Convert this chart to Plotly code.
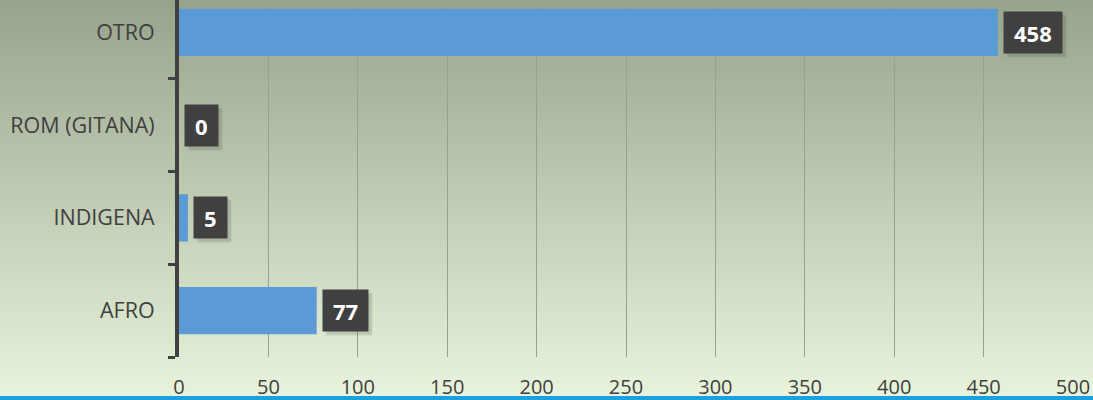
import plotly.graph_objects as go

categories = ["AFRO", "INDIGENA", "ROM (GITANA)", "OTRO"]
values = [77, 5, 0, 458]
x_ticks = [0, 50, 100, 150, 200, 250, 300, 350, 400, 450, 500]

W, H = 1093, 400
ML, MR, MT, MB = 179, 20, 0, 43
PW, PH = W - ML - MR, H - MT - MB

BAR = "#5B9BD5"
TXT = "#404040"

fig = go.Figure()
fig.add_trace(go.Bar(
    y=categories, x=values, orientation="h",
    marker=dict(color=BAR, line=dict(width=0)),
    width=0.51, hoverinfo="x+y",
))

shapes = []
# background gradient (figure-wide) built from horizontal bands
top = (152, 163, 140)
bot = (233, 244, 220)
N = 100
for i in range(N):
    t0 = i / N
    t1 = (i + 1) / N
    tm = (t0 + t1) / 2
    c = tuple(int(round(top[k] + (bot[k] - top[k]) * tm)) for k in range(3))
    py0 = t0 * H
    py1 = t1 * H + 0.6
    shapes.append(dict(
        type="rect", xref="paper", yref="paper",
        x0=-ML / PW - 0.01, x1=1 + MR / PW + 0.01,
        y0=1 - (py1 - MT) / PH, y1=1 - (py0 - MT) / PH,
        fillcolor="rgb(%d,%d,%d)" % c, line=dict(width=0), layer="below",
    ))
# bottom blue stripe
shapes.append(dict(
    type="rect", xref="paper", yref="paper",
    x0=-ML / PW - 0.01, x1=1 + MR / PW + 0.01,
    y0=-(MB + 1) / PH, y1=-(MB - 4) / PH,
    fillcolor="#1BA1E2", line=dict(width=0), layer="above",
))

annotations = []
for cat, v in zip(categories, values):
    s = str(v)
    w = 12.6 * len(s) + 8
    # soft shadow
    for dx, dy, a in [(9, -4, 0.10), (8, -3, 0.08)]:
        annotations.append(dict(
            x=v, y=cat, xref="x", yref="y", text=" ", showarrow=False,
            xanchor="left", yanchor="middle", xshift=dx, yshift=dy,
            width=w, height=29, borderpad=6, bgcolor="rgba(40,50,40,%.2f)" % a,
            font=dict(size=22),
        ))
    annotations.append(dict(
        x=v, y=cat, xref="x", yref="y", text="<b>%s</b>" % s, showarrow=False,
        xanchor="left", yanchor="middle", xshift=5,
        width=w, height=29, borderpad=6, bgcolor="#404040",
        font=dict(family="Open Sans", size=22, color="white"),
    ))

fig.update_layout(
    width=W, height=H,
    margin=dict(l=ML, r=MR, t=MT, b=MB, pad=0),
    paper_bgcolor="rgba(0,0,0,0)",
    plot_bgcolor="rgba(0,0,0,0)",
    showlegend=False,
    shapes=shapes,
    annotations=annotations,
    font=dict(family="Open Sans", color=TXT),
    xaxis=dict(
        range=[0, 500], tickvals=x_ticks, ticktext=[str(t) for t in x_ticks],
        showgrid=True, gridcolor="#97A192", gridwidth=1.3,
        zeroline=False, showline=False, ticks="",
        tickfont=dict(family="Open Sans", size=20, color=TXT),
        ticklabelstandoff=16,
    ),
    yaxis=dict(
        type="category", range=[-0.5, 3.35],
        showgrid=False, zeroline=False,
        showline=True, linecolor=TXT, linewidth=4,
        ticks="outside", ticklen=7, tickwidth=3, tickcolor=TXT,
        tickson="boundaries",
        tickfont=dict(family="Open Sans", size=21.5, color=TXT),
        ticklabelstandoff=16,
    ),
    bargap=0.49,
)

fig.write_html(
    "out.html",
    config={"displayModeBar": False},
    post_script="document.body.style.margin='0';document.body.style.overflow='hidden';",
)
